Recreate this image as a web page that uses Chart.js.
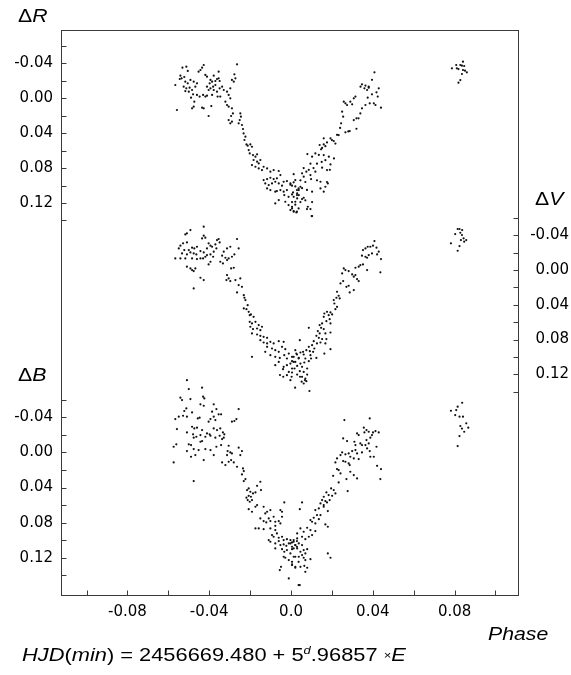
<!DOCTYPE html>
<html>
<head>
<meta charset="utf-8">
<script src="https://cdn.jsdelivr.net/npm/chart.js@4.4.1/dist/chart.umd.min.js"></script>
<style>
  html, body { margin: 0; padding: 0; background: #fff; }
  #wrap { position: relative; width: 571px; height: 675px; overflow: hidden; }
  #c { position: absolute; left: 0; top: 0; }
  .t { position: absolute; font-family: 'Liberation Sans', Arial, sans-serif; font-size: 18px; line-height: 1;
       transform: scaleX(1.18); transform-origin: 0 0; white-space: nowrap; color: #000; }
</style>
</head>
<body>
<div id="wrap">
  <canvas id="c" width="571" height="675"></canvas>
  <div class="t" style="left:18px;top:7px;">Δ<i>R</i></div>
  <div class="t" style="left:535px;top:190px;">Δ<i>V</i></div>
  <div class="t" style="left:18px;top:366px;">Δ<i>B</i></div>
  <div class="t" style="left:488px;top:625px;"><i>Phase</i></div>
  <div class="t" style="left:22px;top:646px;font-size:18.5px;"><i>HJD</i>(<i>min</i>) = 2456669.480 + 5<span style="font-size:11px;position:relative;top:-7px;"><i>d</i></span>.96857 <span style="font-size:11px;position:relative;top:-2px;">×</span><i>E</i></div>
</div>
<script>
// ---- axis ticks ----
const X_TICKS  = [-0.10, -0.08, -0.06, -0.04, -0.02, 0, 0.02, 0.04, 0.06, 0.08, 0.10];
const X_LABELS = ['', '-0.08', '', '-0.04', '', '0.0', '', '0.04', '', '0.08', ''];
const Y_TICKS  = [-0.06, -0.04, -0.02, 0, 0.02, 0.04, 0.06, 0.08, 0.10, 0.12, 0.14];
const Y_LABELS = ['', '-0.04', '', '0.00', '', '0.04', '', '0.08', '', '0.12', ''];

// ---- ΔR light curve: [phase, ΔR] ----
const R_POINTS = [
[-0.0512,-0.0361],[-0.0531,-0.0350],[-0.0505,-0.0312],[-0.0541,-0.0258],[-0.0522,-0.0243],[-0.0544,-0.0220],[-0.0535,-0.0228],
[-0.0566,-0.0151],[-0.0517,-0.0189],[-0.0505,-0.0170],[-0.0492,-0.0209],[-0.0476,-0.0189],[-0.0525,-0.0132],[-0.0512,-0.0113],
[-0.0496,-0.0121],[-0.0484,-0.0094],[-0.0468,-0.0132],[-0.0460,-0.0170],[-0.0500,-0.0075],[-0.0517,-0.0082],[-0.0479,-0.0044],
[-0.0460,-0.0037],[-0.0447,-0.0018],[-0.0489,-0.0006],[-0.0473,0.0040],[-0.0476,0.0097],[-0.0484,0.0116],[-0.0558,0.0135],
[-0.0435,0.0109],[-0.0427,0.0116],[-0.0403,0.0204],[-0.0390,0.0090],[-0.0443,-0.0323],[-0.0435,-0.0350],[-0.0427,-0.0380],
[-0.0452,-0.0304],[-0.0419,-0.0266],[-0.0411,-0.0247],[-0.0394,-0.0209],[-0.0378,-0.0258],[-0.0386,-0.0189],[-0.0398,-0.0170],
[-0.0370,-0.0197],[-0.0362,-0.0220],[-0.0354,-0.0228],[-0.0349,-0.0197],[-0.0370,-0.0151],[-0.0381,-0.0132],[-0.0394,-0.0113],
[-0.0411,-0.0132],[-0.0403,-0.0094],[-0.0378,-0.0094],[-0.0362,-0.0075],[-0.0349,-0.0113],[-0.0337,-0.0132],[-0.0329,-0.0094],
[-0.0354,-0.0304],[-0.0359,-0.0018],[-0.0346,-0.0018],[-0.0419,-0.0018],[-0.0430,-0.0037],[-0.0411,-0.0029],[-0.0386,-0.0037],
[-0.0264,-0.0388],[-0.0277,-0.0273],[-0.0272,-0.0228],[-0.0280,-0.0189],[-0.0289,-0.0209],[-0.0297,-0.0113],[-0.0313,-0.0075],
[-0.0305,-0.0037],[-0.0297,0.0002],[-0.0321,0.0040],[-0.0313,0.0078],[-0.0305,0.0097],[-0.0289,0.0116],[-0.0284,0.0174],
[-0.0293,0.0204],[-0.0305,0.0250],[-0.0297,0.0288],[-0.0289,0.0269],[-0.0256,0.0288],[-0.0251,0.0250],[-0.0245,0.0212],
[-0.0248,0.0174],[-0.0240,0.0307],[-0.0235,0.0353],[-0.0232,0.0403],[-0.0223,0.0441],[-0.0228,0.0479],[-0.0218,0.0529],
[-0.0212,0.0544],[-0.0199,0.0529],[-0.0191,0.0556],[-0.0207,0.0594],[-0.0202,0.0632],[-0.0186,0.0651],[-0.0174,0.0670],
[-0.0166,0.0643],[-0.0183,0.0708],[-0.0166,0.0727],[-0.0158,0.0747],[-0.0150,0.0708],[-0.0191,0.0766],[-0.0174,0.0785],
[-0.0158,0.0804],[-0.0142,0.0823],[-0.0134,0.0785],[-0.0117,0.0804],[-0.0101,0.0842],[-0.0085,0.0823],[-0.0060,0.0834],
[-0.0052,0.0880],[-0.0069,0.0918],[-0.0085,0.0926],[-0.0101,0.0911],[-0.0117,0.0926],[-0.0134,0.0938],[-0.0126,0.0976],
[-0.0109,0.0995],[-0.0093,0.0976],[-0.0077,0.0957],[-0.0060,0.0976],[-0.0044,0.1002],[-0.0036,0.0957],[-0.0020,0.0949],
[-0.0003,0.0976],[0.0005,0.1002],[0.0013,0.0964],[0.0021,0.0938],[-0.0117,0.1033],[-0.0101,0.1052],[-0.0077,0.1071],
[-0.0069,0.1064],[-0.0052,0.1052],[-0.0036,0.1071],[-0.0020,0.1052],[-0.0033,0.1109],[-0.0012,0.1129],[0.0005,0.1102],
[0.0029,0.1052],[0.0037,0.1033],[0.0046,0.1014],[-0.0060,0.1167],[-0.0077,0.1205],[-0.0028,0.1186],[-0.0012,0.1224],
[0.0005,0.1243],[0.0021,0.1186],[0.0029,0.1109],[-0.0003,0.1281],[0.0013,0.1293],[0.0029,0.1300],[0.0037,0.1262],
[0.0408,-0.0296],[0.0396,-0.0210],[0.0429,-0.0113],[0.0440,0.0109],[0.0413,0.0078],[0.0340,-0.0132],[0.0380,-0.0132],
[0.0258,0.0040],[0.0274,0.0078],[0.0250,0.0154],[0.0315,-0.0018],[0.0307,0.0250],[0.0330,0.0230],[0.0240,0.0340],
[0.0280,0.0380],[0.0320,0.0350],[0.0225,0.0420],[0.0160,0.0460],[0.0200,0.0480],[0.0217,0.0520],[0.0152,0.0570],
[0.0168,0.0550],[0.0080,0.0640],[0.0136,0.0650],[0.0185,0.0670],[0.0210,0.0690],[0.0095,0.0750],[0.0127,0.0750],
[0.0150,0.0730],[0.0168,0.0710],[0.0062,0.0800],[0.0087,0.0820],[0.0110,0.0800],[0.0190,0.0820],[0.0013,0.0870],
[0.0054,0.0860],[0.0095,0.0880],[0.0046,0.0940],[0.0070,0.0960],[0.0127,0.0940],[0.0176,0.0960],[-0.0003,0.0990],
[0.0021,0.1010],[0.0054,0.1030],[0.0078,0.1050],[0.0160,0.1070],[0.0030,0.1090],[0.0013,0.1130],[0.0038,0.1110],
[0.0062,0.1140],[0.0005,0.1190],[0.0046,0.1190],[0.0070,0.1170],[0.0103,0.1190],[0.0021,0.1220],[0.0078,0.1270],
[0.0013,0.1300],[0.0103,0.1350],[0.0101,0.1350],
[0.0347,-0.0159],[0.0364,-0.0144],[0.0380,-0.0121],[0.0359,-0.0113],[0.0372,-0.0094],[0.0418,-0.0067],[0.0424,-0.0018],
[0.0396,-0.0044],[0.0375,-0.0006],[0.0405,0.0059],[0.0385,0.0059],[0.0364,0.0078],[0.0347,0.0116],[0.0339,0.0174],
[0.0290,0.0040],[0.0299,0.0070],[0.0266,0.0059],[0.0307,0.0002],[0.0320,0.0231],[0.0255,0.0212],[0.0245,0.0288],
[0.0233,0.0422],[0.0266,0.0391],[0.0287,0.0376],[0.0176,0.0506],[0.0209,0.0490],[0.0193,0.0460],[0.0160,0.0529],
[0.0147,0.0586],[0.0140,0.0536],[0.0119,0.0632],[0.0103,0.0670],[0.0160,0.0651],[0.0193,0.0758],[0.0176,0.0823],
[0.0152,0.0796],[0.0119,0.0842],[0.0075,0.0842],[0.0062,0.0899],[0.0098,0.0926],[0.0144,0.0957],[0.0180,0.0976],
[0.0168,0.1014],[0.0144,0.1033],[0.0103,0.1071],[0.0038,0.1052],[0.0010,0.1079],[0.0030,0.1148],[0.0054,0.1155],
[0.0082,0.1243],[0.0095,0.1270],[0.0005,0.1262],[0.0026,0.1308],
[0.0841,-0.0418],[0.0808,-0.0380],[0.0828,-0.0380],[0.0836,-0.0372],[0.0847,-0.0369],[0.0787,-0.0342],[0.0811,-0.0342],
[0.0819,-0.0334],[0.0841,-0.0323],[0.0851,-0.0315],[0.0860,-0.0296],[0.0836,-0.0277],[0.0828,-0.0208],[0.0819,-0.0178]
];

// ---- ΔV light curve: [phase, ΔV] ----
const V_POINTS = [
[-0.0492,-0.0460],[-0.0509,-0.0422],[-0.0517,-0.0410],[-0.0427,-0.0499],[-0.0427,-0.0395],[-0.0435,-0.0364],[-0.0419,-0.0372],
[-0.0528,-0.0307],[-0.0509,-0.0318],[-0.0541,-0.0280],[-0.0549,-0.0249],[-0.0484,-0.0257],[-0.0473,-0.0249],[-0.0460,-0.0268],
[-0.0500,-0.0230],[-0.0522,-0.0230],[-0.0533,-0.0191],[-0.0509,-0.0180],[-0.0492,-0.0203],[-0.0476,-0.0191],[-0.0463,-0.0180],
[-0.0443,-0.0218],[-0.0427,-0.0203],[-0.0411,-0.0249],[-0.0394,-0.0280],[-0.0403,-0.0307],[-0.0386,-0.0268],[-0.0370,-0.0295],
[-0.0362,-0.0345],[-0.0354,-0.0357],[-0.0349,-0.0318],[-0.0365,-0.0249],[-0.0378,-0.0211],[-0.0394,-0.0180],[-0.0381,-0.0153],
[-0.0411,-0.0172],[-0.0419,-0.0153],[-0.0430,-0.0134],[-0.0443,-0.0134],[-0.0460,-0.0126],[-0.0484,-0.0134],[-0.0566,-0.0134],
[-0.0541,-0.0134],[-0.0517,-0.0134],[-0.0394,-0.0095],[-0.0403,-0.0065],[-0.0509,-0.0038],[-0.0492,-0.0019],[-0.0484,0.0001],
[-0.0476,0.0012],[-0.0468,-0.0019],[-0.0329,-0.0211],[-0.0313,-0.0249],[-0.0297,-0.0268],[-0.0337,-0.0165],[-0.0321,-0.0141],
[-0.0305,-0.0134],[-0.0289,-0.0153],[-0.0277,-0.0180],[-0.0346,-0.0095],[-0.0333,-0.0076],[-0.0313,-0.0115],[-0.0264,-0.0357],
[-0.0256,-0.0249],[-0.0443,0.0089],[-0.0427,0.0116],[-0.0476,0.0212],[-0.0293,-0.0019],[-0.0280,-0.0026],[-0.0313,0.0058],
[-0.0305,0.0097],[-0.0316,0.0116],[-0.0297,0.0127],[-0.0272,0.0116],[-0.0248,0.0097],[-0.0256,0.0173],[-0.0240,0.0193],
[-0.0264,0.0258],[-0.0231,0.0289],[-0.0228,0.0319],[-0.0223,0.0346],[-0.0212,0.0404],[-0.0218,0.0450],[-0.0207,0.0481],
[-0.0231,0.0442],[-0.0202,0.0519],[-0.0196,0.0511],[-0.0183,0.0538],[-0.0202,0.0596],[-0.0191,0.0615],[-0.0174,0.0596],
[-0.0158,0.0634],[-0.0199,0.0653],[-0.0186,0.0680],[-0.0166,0.0673],[-0.0150,0.0692],[-0.0142,0.0653],[-0.0191,0.0730],
[-0.0166,0.0742],[-0.0150,0.0757],[-0.0134,0.0769],[-0.0117,0.0780],[-0.0150,0.0807],[-0.0134,0.0834],[-0.0117,0.0845],
[-0.0101,0.0826],[-0.0085,0.0845],[-0.0060,0.0819],[-0.0036,0.0826],[-0.0117,0.0884],[-0.0093,0.0903],[-0.0077,0.0922],
[-0.0060,0.0941],[-0.0044,0.0884],[-0.0028,0.0911],[-0.0011,0.0961],[-0.0126,0.0941],[-0.0101,0.0980],[-0.0077,0.0999],
[-0.0055,0.1011],[-0.0033,0.0980],[-0.0020,0.1018],[0.0005,0.0999],[0.0021,0.0922],[0.0029,0.0972],[0.0037,0.1018],
[0.0013,0.1057],[-0.0003,0.1076],[-0.0020,0.1095],[-0.0036,0.1114],[-0.0060,0.1057],[-0.0077,0.1095],[0.0005,0.1133],
[-0.0011,0.1172],[-0.0039,0.1141],[-0.0020,0.1210],[-0.0191,0.0999],[-0.0509,0.1268],
[0.0408,-0.0333],[0.0401,-0.0280],[0.0388,-0.0268],[0.0375,-0.0268],[0.0364,-0.0249],[0.0352,-0.0230],[0.0418,-0.0257],
[0.0429,-0.0211],[0.0421,-0.0180],[0.0396,-0.0191],[0.0380,-0.0172],[0.0364,-0.0153],[0.0347,-0.0165],[0.0372,-0.0141],
[0.0440,-0.0126],[0.0339,-0.0057],[0.0352,-0.0065],[0.0331,-0.0038],[0.0315,-0.0026],[0.0372,0.0001],[0.0437,0.0027],
[0.0258,-0.0019],[0.0266,0.0001],[0.0282,0.0012],[0.0299,0.0051],[0.0307,0.0077],[0.0315,0.0058],[0.0323,0.0104],
[0.0331,0.0127],[0.0250,0.0039],[0.0242,0.0154],[0.0255,0.0127],[0.0282,0.0181],[0.0271,0.0193],[0.0307,0.0231],
[0.0287,0.0258],[0.0225,0.0250],[0.0233,0.0296],[0.0222,0.0319],[0.0209,0.0346],[0.0238,0.0327],[0.0212,0.0385],
[0.0225,0.0423],[0.0217,0.0450],[0.0193,0.0488],[0.0176,0.0481],[0.0163,0.0500],[0.0160,0.0538],[0.0184,0.0519],
[0.0201,0.0511],[0.0189,0.0565],[0.0173,0.0588],[0.0193,0.0615],[0.0152,0.0615],[0.0140,0.0634],[0.0147,0.0665],
[0.0160,0.0680],[0.0131,0.0703],[0.0140,0.0730],[0.0168,0.0730],[0.0193,0.0719],[0.0124,0.0757],[0.0136,0.0780],
[0.0152,0.0795],[0.0173,0.0795],[0.0111,0.0819],[0.0127,0.0845],[0.0144,0.0834],[0.0168,0.0845],[0.0103,0.0865],
[0.0087,0.0884],[0.0114,0.0903],[0.0193,0.0911],[0.0075,0.0922],[0.0059,0.0941],[0.0092,0.0934],[0.0108,0.0941],
[0.0046,0.0949],[0.0026,0.0961],[0.0062,0.0972],[0.0095,0.0980],[0.0163,0.0961],[0.0013,0.0999],[0.0038,0.1011],
[0.0070,0.1018],[0.0098,0.1018],[0.0124,0.1011],[0.0005,0.1049],[0.0021,0.1057],[0.0046,0.1076],[0.0065,0.1064],
[0.0087,0.1049],[0.0030,0.1103],[0.0054,0.1114],[0.0079,0.1133],[0.0017,0.1133],[0.0043,0.1164],[0.0062,0.1172],
[0.0079,0.1203],[0.0005,0.1179],[0.0030,0.1203],[0.0054,0.1229],[0.0070,0.1249],[0.0075,0.1279],[0.0062,0.1306],
[-0.0003,0.1268],[0.0087,0.0665],[0.0043,0.0807],
[0.0003,0.1228],[0.0044,0.1228],[0.0068,0.1266],[0.0052,0.1285],[0.0020,0.1354],[0.0090,0.1392],[-0.0054,0.1208],[-0.0038,0.1228],
[0.0815,-0.0472],[0.0824,-0.0472],[0.0837,-0.0460],[0.0803,-0.0414],[0.0828,-0.0429],[0.0836,-0.0403],[0.0844,-0.0365],
[0.0857,-0.0345],[0.0831,-0.0345],[0.0847,-0.0326],[0.0782,-0.0307],[0.0824,-0.0276],[0.0815,-0.0222]
];

// ---- ΔB light curve: [phase, ΔB] ----
const B_POINTS = [
[-0.0500,-0.0722],[-0.0435,-0.0738],[-0.0541,-0.0624],[-0.0533,-0.0597],[-0.0492,-0.0608],[-0.0430,-0.0635],[-0.0424,-0.0616],
[-0.0512,-0.0502],[-0.0522,-0.0472],[-0.0484,-0.0456],[-0.0443,-0.0548],[-0.0427,-0.0532],[-0.0378,-0.0548],[-0.0549,-0.0407],
[-0.0566,-0.0380],[-0.0528,-0.0418],[-0.0509,-0.0407],[-0.0456,-0.0388],[-0.0447,-0.0396],[-0.0386,-0.0464],[-0.0365,-0.0494],
[-0.0354,-0.0434],[-0.0342,-0.0434],[-0.0378,-0.0407],[-0.0394,-0.0380],[-0.0403,-0.0350],[-0.0370,-0.0369],[-0.0256,-0.0494],
[-0.0267,-0.0380],[-0.0277,-0.0358],[-0.0289,-0.0350],[-0.0484,-0.0293],[-0.0473,-0.0274],[-0.0460,-0.0282],[-0.0558,-0.0266],
[-0.0509,-0.0228],[-0.0479,-0.0206],[-0.0463,-0.0179],[-0.0443,-0.0198],[-0.0435,-0.0255],[-0.0411,-0.0217],[-0.0398,-0.0206],
[-0.0378,-0.0274],[-0.0362,-0.0255],[-0.0346,-0.0274],[-0.0333,-0.0228],[-0.0326,-0.0206],[-0.0349,-0.0190],[-0.0370,-0.0168],
[-0.0394,-0.0190],[-0.0419,-0.0179],[-0.0476,-0.0168],[-0.0443,-0.0122],[-0.0435,-0.0130],[-0.0337,-0.0152],[-0.0329,-0.0168],
[-0.0500,-0.0092],[-0.0489,-0.0084],[-0.0561,-0.0092],[-0.0574,-0.0065],[-0.0509,-0.0016],[-0.0476,-0.0038],[-0.0452,-0.0027],
[-0.0419,-0.0038],[-0.0394,-0.0027],[-0.0468,0.0030],[-0.0489,0.0049],[-0.0427,0.0087],[-0.0378,0.0030],[-0.0365,-0.0065],
[-0.0342,-0.0084],[-0.0305,-0.0076],[-0.0310,-0.0016],[-0.0297,0.0000],[-0.0289,0.0011],[-0.0313,0.0030],[-0.0256,-0.0054],
[-0.0248,0.0030],[-0.0240,-0.0016],[-0.0293,0.0087],[-0.0305,0.0106],[-0.0280,0.0114],[-0.0337,0.0114],[-0.0321,0.0144],
[-0.0574,0.0114],[-0.0264,0.0163],[-0.0235,0.0182],[-0.0231,0.0212],[-0.0240,0.0250],[-0.0223,0.0304],[-0.0231,0.0326],
[-0.0476,0.0326],[-0.0150,0.0334],[-0.0166,0.0380],[-0.0147,0.0429],[-0.0207,0.0410],[-0.0199,0.0448],[-0.0215,0.0429],
[-0.0186,0.0467],[-0.0174,0.0456],[-0.0207,0.0494],[-0.0218,0.0516],[-0.0191,0.0543],[-0.0196,0.0505],[-0.0202,0.0562],
[-0.0212,0.0543],[-0.0033,0.0570],[-0.0166,0.0600],[-0.0174,0.0619],[-0.0191,0.0676],[-0.0207,0.0646],[-0.0134,0.0619],
[-0.0117,0.0676],[-0.0101,0.0657],[-0.0126,0.0695],[-0.0052,0.0657],[-0.0044,0.0676],[-0.0085,0.0733],[-0.0109,0.0752],
[-0.0150,0.0752],[-0.0134,0.0782],[-0.0121,0.0798],[-0.0101,0.0782],[-0.0077,0.0790],[-0.0060,0.0782],[-0.0044,0.0733],
[-0.0052,0.0809],[-0.0077,0.0836],[-0.0174,0.0866],[-0.0158,0.0866],[-0.0134,0.0874],[-0.0101,0.0866],[-0.0077,0.0885],
[-0.0069,0.0923],[-0.0093,0.0942],[-0.0085,0.0961],[-0.0060,0.0972],[-0.0109,0.0999],[-0.0101,0.1018],[-0.0077,0.1037],
[-0.0060,0.1010],[-0.0044,0.0961],[-0.0036,0.0999],[-0.0020,0.0988],[-0.0003,0.0999],[0.0013,0.1018],[0.0029,0.1010],
[-0.0052,0.1056],[-0.0036,0.1048],[-0.0023,0.1064],[-0.0011,0.1037],[0.0005,0.1075],[0.0021,0.1056],[-0.0044,0.1102],
[-0.0033,0.1132],[-0.0020,0.1113],[-0.0003,0.1151],[0.0013,0.1094],[0.0029,0.1075],[-0.0077,0.1094],[-0.0028,0.1200],
[-0.0011,0.1227],[-0.0036,0.1189],[0.0021,0.1189],[0.0005,0.1246],[-0.0049,0.1303],[-0.0055,0.1341],[0.0005,0.1284],
[0.0021,0.1303],[0.0037,0.1246],[-0.0011,0.1436],[0.0037,0.1512],
[0.0261,-0.0369],[0.0385,-0.0388],[0.0356,-0.0282],[0.0369,-0.0255],[0.0359,-0.0228],[0.0380,-0.0236],[0.0401,-0.0228],
[0.0413,-0.0244],[0.0429,-0.0228],[0.0396,-0.0198],[0.0323,-0.0217],[0.0331,-0.0198],[0.0339,-0.0103],[0.0347,-0.0084],
[0.0315,-0.0084],[0.0310,-0.0122],[0.0255,-0.0160],[0.0274,-0.0130],[0.0369,-0.0141],[0.0388,-0.0168],[0.0380,-0.0103],
[0.0364,-0.0084],[0.0372,-0.0046],[0.0418,-0.0065],[0.0299,-0.0016],[0.0315,-0.0027],[0.0282,0.0011],[0.0266,0.0022],
[0.0250,0.0000],[0.0242,0.0030],[0.0290,0.0049],[0.0323,0.0011],[0.0347,0.0000],[0.0385,-0.0016],[0.0388,0.0049],
[0.0405,0.0049],[0.0225,0.0068],[0.0217,0.0114],[0.0255,0.0098],[0.0266,0.0106],[0.0282,0.0125],[0.0307,0.0068],
[0.0331,0.0076],[0.0233,0.0201],[0.0225,0.0190],[0.0242,0.0239],[0.0287,0.0144],[0.0290,0.0220],[0.0307,0.0258],
[0.0421,0.0152],[0.0440,0.0190],[0.0437,0.0304],[0.0206,0.0266],[0.0271,0.0304],[0.0233,0.0342],[0.0323,0.0296],
[0.0277,0.0440],[0.0196,0.0410],[0.0209,0.0429],[0.0173,0.0456],[0.0184,0.0486],[0.0201,0.0494],[0.0217,0.0467],
[0.0160,0.0505],[0.0152,0.0543],[0.0168,0.0554],[0.0189,0.0543],[0.0144,0.0581],[0.0160,0.0600],[0.0176,0.0570],
[0.0136,0.0638],[0.0160,0.0619],[0.0180,0.0668],[0.0119,0.0657],[0.0054,0.0570],[0.0043,0.0646],[0.0127,0.0714],
[0.0144,0.0714],[0.0111,0.0744],[0.0136,0.0760],[0.0095,0.0771],[0.0103,0.0790],[0.0119,0.0809],[0.0168,0.0820],
[0.0180,0.0847],[0.0079,0.0858],[0.0095,0.0885],[0.0119,0.0896],[0.0046,0.0866],[0.0062,0.0904],[0.0030,0.0923],
[0.0103,0.0942],[0.0087,0.0961],[0.0054,0.0961],[0.0070,0.0988],[0.0030,0.0980],[0.0013,0.0999],[0.0005,0.1026],
[-0.0003,0.1037],[0.0038,0.1037],[0.0021,0.1056],[0.0054,0.1056],[0.0062,0.1113],[0.0079,0.1102],[0.0046,0.1132],
[0.0005,0.1102],[0.0030,0.1094],[0.0070,0.1151],[0.0054,0.1170],[0.0062,0.1200],[0.0038,0.1189],[0.0013,0.1189],
[0.0070,0.1227],[0.0095,0.1216],[0.0005,0.1276],[0.0046,0.1303],[0.0065,0.1292],[0.0079,0.1314],[0.0021,0.1314],
[0.0070,0.1360],[0.0180,0.1151],[0.0193,0.1200],[0.0043,0.1512],
[0.0837,-0.0566],[0.0815,-0.0521],[0.0808,-0.0483],[0.0782,-0.0475],[0.0803,-0.0426],[0.0824,-0.0407],[0.0841,-0.0407],
[0.0857,-0.0332],[0.0828,-0.0301],[0.0867,-0.0282],[0.0836,-0.0272],[0.0847,-0.0236],[0.0824,-0.0187],[0.0815,-0.0073]
];

const toXY = pts => pts.map(p => ({ x: p[0], y: p[1] }));

const TICK_FONT = { family: "'DejaVu Sans', sans-serif", size: 15 };

function yAxis(opts, tickOpts) {
  return Object.assign({
    type: 'linear',
    reverse: true,
    grid: { display: false, drawTicks: false },
    border: { display: false },
    afterBuildTicks: s => { s.ticks = Y_TICKS.map(v => ({ value: v })); },
    ticks: Object.assign({
      autoSkip: false,
      color: '#000',
      font: TICK_FONT,
      padding: 8,
      callback: (v, i) => Y_LABELS[i]
    }, tickOpts || {})
  }, opts);
}

const framePlugin = {
  id: 'frame',
  afterDraw(chart) {
    const { ctx, chartArea: a, scales } = chart;
    const L = Math.round(a.left) + 0.5, R = Math.round(a.right) - 0.5;
    const T = Math.round(a.top) + 0.5, B = Math.round(a.bottom) - 0.5;
    ctx.save();
    ctx.strokeStyle = '#3a3a3a';
    ctx.lineWidth = 1;
    ctx.strokeRect(L, T, R - L, B - T);
    ctx.beginPath();
    const len = 5;
    scales.x.ticks.forEach(t => {
      const px = Math.round(scales.x.getPixelForValue(t.value)) + 0.5;
      ctx.moveTo(px, B); ctx.lineTo(px, B - len);
    });
    ['yR', 'yB'].forEach(id => {
      scales[id].ticks.forEach(t => {
        const py = Math.round(scales[id].getPixelForValue(t.value)) + 0.5;
        ctx.moveTo(L, py); ctx.lineTo(L + len, py);
      });
    });
    scales.yV.ticks.forEach(t => {
      const py = Math.round(scales.yV.getPixelForValue(t.value)) + 0.5;
      ctx.moveTo(R, py); ctx.lineTo(R - len, py);
    });
    ctx.stroke();
    ctx.restore();
  }
};

const pointStyle = { showLine: false, pointRadius: 1.1, pointBorderWidth: 0, pointBackgroundColor: '#111', pointHoverRadius: 1.1 };

new Chart(document.getElementById('c'), {
  type: 'scatter',
  data: {
    datasets: [
      Object.assign({ label: 'ΔR', data: toXY(R_POINTS), xAxisID: 'x', yAxisID: 'yR' }, pointStyle),
      Object.assign({ label: 'ΔV', data: toXY(V_POINTS), xAxisID: 'x', yAxisID: 'yV' }, pointStyle),
      Object.assign({ label: 'ΔB', data: toXY(B_POINTS), xAxisID: 'x', yAxisID: 'yB' }, pointStyle)
    ]
  },
  options: {
    responsive: false,
    animation: false,
    events: [],
    layout: { padding: { top: 30, right: 2, bottom: 0, left: 0 } },
    plugins: { legend: { display: false }, tooltip: { enabled: false } },
    scales: {
      x: {
        type: 'linear',
        position: 'bottom',
        min: -0.1125,
        max: 0.1115,
        grid: { display: false, drawTicks: false },
        border: { display: false },
        afterBuildTicks: s => { s.ticks = X_TICKS.map(v => ({ value: v })); },
        afterFit: s => { s.height = 79; },
        ticks: { autoSkip: false, maxRotation: 0, color: '#000', font: TICK_FONT, padding: 7,
                 callback: (v, i) => X_LABELS[i] }
      },
      yR: yAxis({ position: 'left', stack: 'left', stackWeight: 1, weight: 1, min: -0.0781, max: 0.2460,
                  afterFit: s => { s.width = 61; } }),
      yB: yAxis({ position: 'left', stack: 'left', stackWeight: 1, weight: 0, min: -0.1589, max: 0.1636,
                  afterFit: s => { s.width = 61; } }),
      yV: yAxis({ position: 'right', min: -0.2762, max: 0.3751,
                  afterFit: s => { s.width = 50; } }, { crossAlign: 'far', padding: 11 })
    }
  },
  plugins: [framePlugin]
});
</script>
</body>
</html>
